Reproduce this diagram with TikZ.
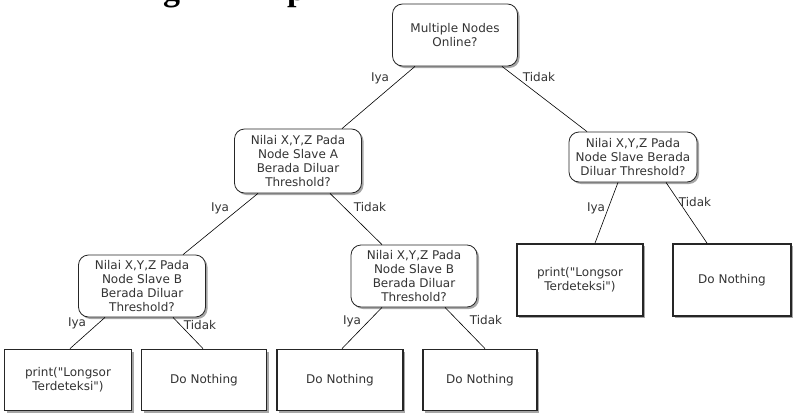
\documentclass[tikz,border=0pt]{standalone}
\usepackage{fontspec}
\setmainfont{DejaVu Sans}[Ligatures=TeXOff]
\newfontfamily\headfont{Liberation Serif}
\usetikzlibrary{shadows,calc}
\definecolor{txt}{HTML}{333333}
\tikzset{
  boxfont/.style={font=\fontsize{12}{14.2}\selectfont, text=txt},
  shade2/.style={drop shadow={shadow xshift=2pt, shadow yshift=-2pt, opacity=0.35, fill=black}},
  decision/.style={boxfont, shade2, draw=black!85, line width=0.8pt, rounded corners=10pt,
    fill=white, align=center, inner sep=0pt},
  leaf/.style={boxfont, shade2, draw=black!85, line width=1.8pt, fill=white,
    align=center, inner sep=0pt},
  link/.style={draw=black, line width=0.6pt},
  lbl/.style={font=\fontsize{12}{14}\selectfont, text=txt, inner sep=0pt}
}
\begin{document}
\begin{tikzpicture}[x=1pt, y=-1pt]
\useasboundingbox (0,0) rectangle (794,412);

% heading above the tree, mostly cut off by the page edge
\begin{scope}
  \clip (0,0) rectangle (794,412);
  \node[anchor=base west, inner sep=0pt, font=\headfont\bfseries\fontsize{34}{34}\selectfont] (hg) at (163,1) {g};
  \node[anchor=base west, inner sep=0pt, font=\headfont\bfseries\fontsize{34}{34}\selectfont] (hp) at (287,1) {p};
\end{scope}

% decision nodes
\node[decision, minimum width=125pt, minimum height=62pt] (root) at (455,35) {Multiple Nodes\\Online?};
\node[decision, minimum width=127pt, minimum height=64pt] (slA) at (298,161) {Nilai X,Y,Z Pada\\Node Slave A\\Berada Diluar\\Threshold?};
\node[decision, minimum width=128pt, minimum height=50pt] (slR) at (633,157) {Nilai X,Y,Z Pada\\Node Slave Berada\\Diluar Threshold?};
\node[decision, minimum width=127pt, minimum height=62pt] (slB1) at (142,286) {Nilai X,Y,Z Pada\\Node Slave B\\Berada Diluar\\Threshold?};
\node[decision, minimum width=126pt, minimum height=62pt] (slB2) at (414,276) {Nilai X,Y,Z Pada\\Node Slave B\\Berada Diluar\\Threshold?};

% outcome boxes
\node[leaf, minimum width=127pt, minimum height=61pt] (o1) at (68,380) {print("Longsor\\Terdeteksi")};
\node[leaf, minimum width=125pt, minimum height=61pt] (o2) at (204,380) {Do Nothing};
\node[leaf, minimum width=126pt, minimum height=61pt] (o3) at (340,380) {Do Nothing};
\node[leaf, minimum width=114pt, minimum height=61pt] (o4) at (480,380) {Do Nothing};
\node[leaf, minimum width=126pt, minimum height=72pt] (o5) at (580,280) {print("Longsor\\Terdeteksi")};
\node[leaf, minimum width=118pt, minimum height=72pt] (o6) at (732,280) {Do Nothing};

% branches
\draw[link] ($(root.south)+(-40,0)$) -- ($(slA.north)+(44,0)$);
\draw[link] ($(root.south)+(47,0)$) -- ($(slR.north)+(-46,0)$);
\draw[link] ($(slA.south)+(-40,0)$) -- ($(slB1.north)+(41,0)$);
\draw[link] ($(slA.south)+(32,0)$) -- ($(slB2.north)+(-32,0)$);
\draw[link] ($(slR.south)+(-15,0)$) -- ($(o5.north)+(15,0)$);
\draw[link] ($(slR.south)+(33,0)$) -- ($(o6.north)+(-25,0)$);
\draw[link] ($(slB1.south)+(-37,0)$) -- ($(o1.north)+(2,0)$);
\draw[link] ($(slB1.south)+(31,0)$) -- ($(o2.north)+(-1,0)$);
\draw[link] ($(slB2.south)+(-32,0)$) -- ($(o3.north)+(2,0)$);
\draw[link] ($(slB2.south)+(31,0)$) -- ($(o4.north)+(5,0)$);

% branch labels
\node[lbl] (y1) at (380,78) {Iya};
\node[lbl] (t1) at (539,77) {Tidak};
\node[lbl] (y2) at (220,208) {Iya};
\node[lbl] (t2) at (370,207) {Tidak};
\node[lbl] (y3) at (596,208) {Iya};
\node[lbl] (t3) at (695,202) {Tidak};
\node[lbl] (y4) at (77,323) {Iya};
\node[lbl] (t4) at (200,325) {Tidak};
\node[lbl] (y5) at (352,321) {Iya};
\node[lbl] (t5) at (486,320) {Tidak};
\end{tikzpicture}
\end{document}
